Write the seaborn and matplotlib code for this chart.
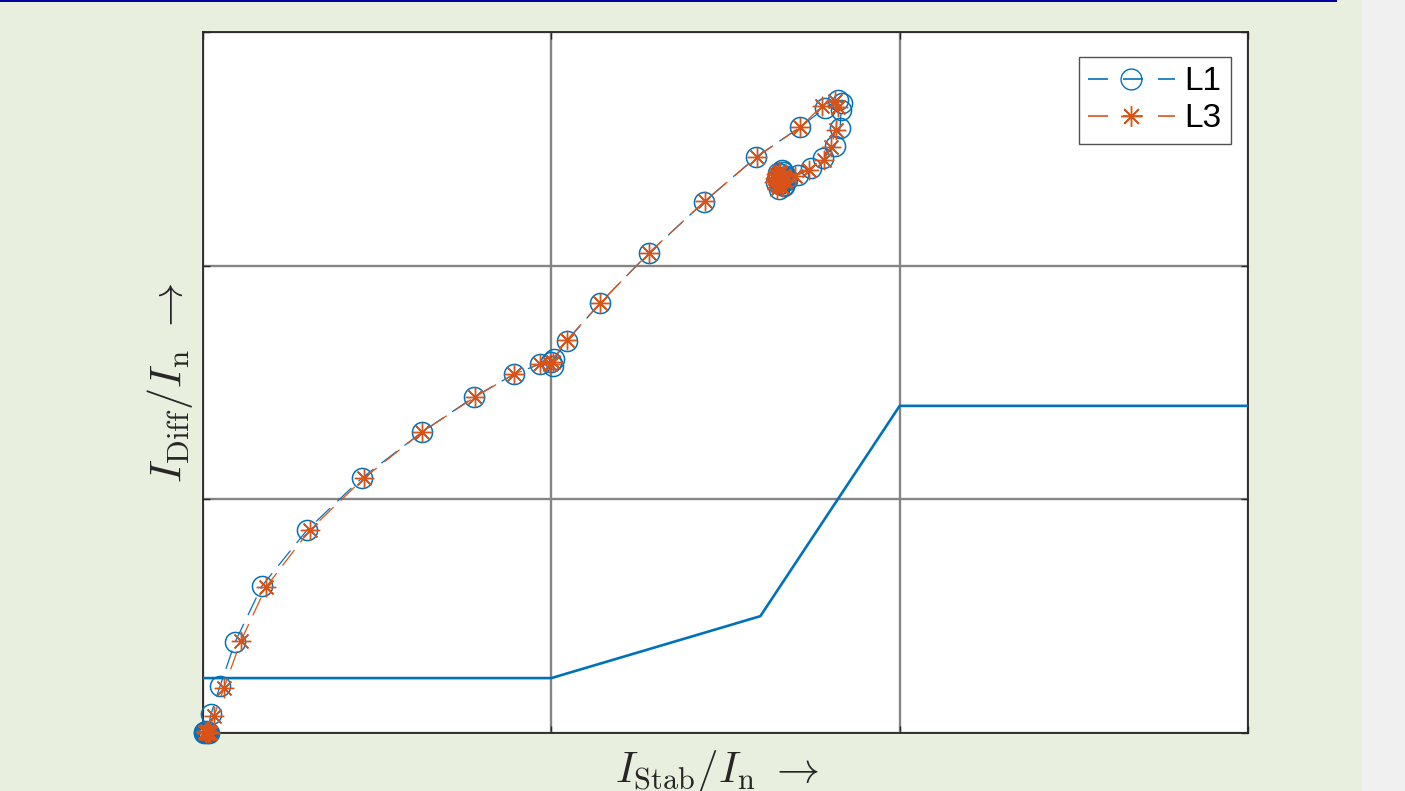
import numpy as np
import pandas as pd
import matplotlib
matplotlib.use("Agg")
import matplotlib.pyplot as plt
from matplotlib.patches import Rectangle
from matplotlib.lines import Line2D
import seaborn as sns

# Trip characteristic (stabilising current vs. differential current, both per unit)
char_x = [0.0, 1.0, 1.60, 2.0, 3.0]
char_y = [0.235, 0.235, 0.50, 1.40, 1.40]

# Measured trajectory, phase L1
l1_x = [0.004, 0.010, 0.002, 0.016, 0.008, 0.013, 0.005, 0.011,
        0.023, 0.049, 0.092, 0.169, 0.299, 0.456, 0.629, 0.778, 0.893,
        0.967, 0.999, 1.005, 1.008, 1.045, 1.140, 1.280, 1.438, 1.588,
        1.714, 1.786, 1.823, 1.834, 1.832, 1.829, 1.814, 1.780, 1.745,
        1.708, 1.677,
        1.672, 1.660, 1.650, 1.657, 1.668, 1.676, 1.664, 1.652, 1.645,
        1.655, 1.667, 1.674, 1.661, 1.650, 1.658]
l1_y = [0.002, 0.006, 0.004, 0.001, 0.008, 0.003, 0.005, 0.000,
        0.081, 0.201, 0.389, 0.629, 0.869, 1.091, 1.288, 1.438, 1.536,
        1.579, 1.588, 1.571, 1.601, 1.678, 1.840, 2.054, 2.272, 2.465,
        2.593, 2.675, 2.709, 2.696, 2.666, 2.589, 2.512, 2.461, 2.418,
        2.388, 2.371,
        2.374, 2.392, 2.380, 2.350, 2.340, 2.365, 2.400, 2.395, 2.360,
        2.330, 2.345, 2.385, 2.410, 2.370, 2.355]

# Measured trajectory, phase L3
l3_x = [0.008, 0.014, 0.005, 0.019, 0.011, 0.016, 0.009, 0.013,
        0.032, 0.060, 0.109, 0.181, 0.307, 0.462, 0.629, 0.781, 0.893,
        0.967, 1.005, 0.995, 1.045, 1.140, 1.280, 1.441, 1.590, 1.714,
        1.777, 1.814, 1.823, 1.817, 1.803, 1.783, 1.740, 1.700, 1.672,
        1.664, 1.652, 1.643, 1.650, 1.662, 1.670, 1.657, 1.646, 1.640,
        1.648, 1.660, 1.668, 1.654, 1.645, 1.652]
l3_y = [0.001, 0.005, 0.003, 0.002, 0.007, 0.004, 0.006, 0.000,
        0.073, 0.193, 0.394, 0.625, 0.869, 1.091, 1.288, 1.438, 1.536,
        1.579, 1.588, 1.580, 1.682, 1.840, 2.054, 2.277, 2.465, 2.593,
        2.683, 2.705, 2.679, 2.581, 2.508, 2.452, 2.409, 2.384, 2.368,
        2.372, 2.390, 2.376, 2.345, 2.338, 2.362, 2.398, 2.392, 2.356,
        2.328, 2.342, 2.382, 2.405, 2.366, 2.350]

series_names = ["L1", "L3"]

BLUE = "#0072BD"
ORANGE = "#D95319"

sns.set_theme(style="white")
plt.rcParams["mathtext.fontset"] = "cm"
plt.rcParams["lines.scale_dashes"] = False

W, H = 1405, 791
fig = plt.figure(figsize=(W / 100, H / 100), dpi=100)
fig.patch.set_facecolor("#e8efdf")

# page strip on the right and the thin rule at the top
fig.patches.append(Rectangle((1362 / W, 0), (W - 1362) / W, 1,
                             transform=fig.transFigure, facecolor="#f0f0f0",
                             edgecolor="none", zorder=0))
fig.patches.append(Rectangle((0, 1 - 2 / H), 1337 / W, 2 / H,
                             transform=fig.transFigure, facecolor="#0000a0",
                             edgecolor="none", zorder=5))

ax = fig.add_axes([203 / W, (H - 733) / H, 1045 / W, 701 / H])
ax.set_facecolor("white")

dash = (0, (14, 7))

sns.lineplot(x=char_x, y=char_y, ax=ax, color=BLUE, linewidth=1.9,
             sort=False, estimator=None, legend=False, zorder=3)

sns.lineplot(x=l1_x, y=l1_y, ax=ax, color=BLUE, linewidth=0.9,
             linestyle=dash, marker="o", markersize=14.5,
             markerfacecolor="none", markeredgecolor=BLUE,
             markeredgewidth=1.1, sort=False, estimator=None,
             legend=False, zorder=4, clip_on=False)

sns.lineplot(x=l3_x, y=l3_y, ax=ax, color=ORANGE, linewidth=0.9,
             linestyle=dash, marker=(8, 2, 0), markersize=14,
             markeredgecolor=ORANGE, markeredgewidth=1.0,
             sort=False, estimator=None, legend=False, zorder=5,
             clip_on=False)

ax.set_xlim(0, 3)
ax.set_ylim(0, 3)
ax.set_xticks([0, 1, 2, 3])
ax.set_yticks([0, 1, 2, 3])
ax.set_xticklabels([])
ax.set_yticklabels([])
ax.tick_params(direction="in", length=5, width=1, colors="#262626",
               top=True, right=True, bottom=True, left=True)
ax.grid(True, color="#858585", linewidth=1.7)
ax.set_axisbelow(True)
for s in ax.spines.values():
    s.set_color("#262626")
    s.set_linewidth(1.3)

ax.set_xlabel(r"$I_{\mathrm{Stab}}/I_{\mathrm{n}}\ \rightarrow$",
              fontsize=31, labelpad=6, color="#262626")
ax.xaxis.set_label_coords(0.492, -0.022)
ax.xaxis.label.set_verticalalignment("top")
ax.set_ylabel(r"$I_{\mathrm{Diff}}/I_{\mathrm{n}}\ \rightarrow$",
              fontsize=32, labelpad=2, color="#262626")

leg_dash = (0, (14.4, 10.8))
handles = [
    Line2D([], [], color=BLUE, linewidth=1.2, linestyle=leg_dash,
           marker="o", markersize=15, markerfacecolor="none",
           markeredgecolor=BLUE),
    Line2D([], [], color=ORANGE, linewidth=1.2, linestyle=leg_dash,
           marker=(8, 2, 0), markersize=15, markeredgecolor=ORANGE),
]
leg = ax.legend(handles, series_names, loc="upper right",
                prop={"family": "Liberation Sans", "size": 24},
                labelcolor="black",
                handlelength=2.6, handletextpad=0.3, labelspacing=0.18,
                borderpad=0.28, borderaxespad=0, frameon=True, fancybox=False)
leg.set_bbox_to_anchor((1231 / W, 1 - 57 / H), transform=fig.transFigure)
leg.get_frame().set_edgecolor("#262626")
leg.get_frame().set_linewidth(1.0)

fig.savefig("out.png", dpi=100, facecolor=fig.get_facecolor())
